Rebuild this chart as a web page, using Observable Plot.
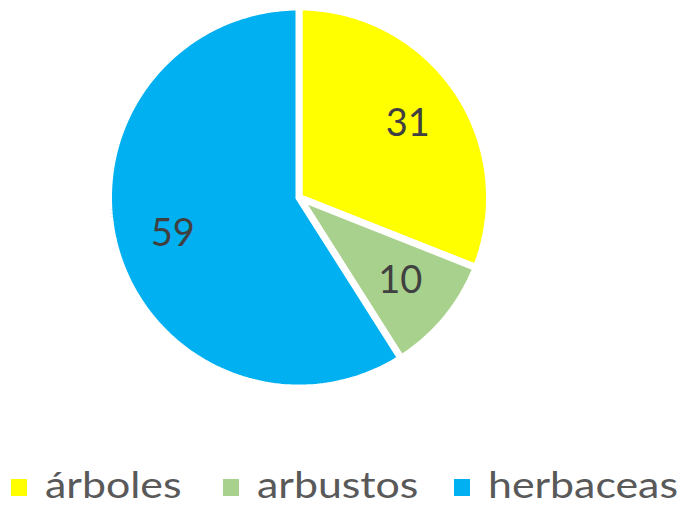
<!DOCTYPE html>
<html>
<head>
<meta charset="utf-8">
<script src="https://cdn.jsdelivr.net/npm/d3@7"></script>
<script src="https://cdn.jsdelivr.net/npm/@observablehq/plot@0.6"></script>
<style>
  html, body { margin: 0; padding: 0; background: #fff; }
  #wrap { position: relative; width: 686px; height: 511px; overflow: hidden; }
  #legend { position: absolute; left: 0; top: 440px; width: 686px; height: 71px; font-family: Lato, sans-serif; font-size: 36px; color: #595959; }
  .item { position: absolute; top: 22px; display: flex; align-items: center; white-space: nowrap; }
  .sw { width: 16px; height: 17px; margin-right: 18px; margin-top: 6px; flex: none; }
  .tx { display: inline-block; transform: scaleX(1.19); transform-origin: 0 50%; }
</style>
</head>
<body>
<div id="wrap">
  <div id="chart"></div>
  <div id="legend"></div>
</div>
<script>
const categories = ["árboles", "arbustos", "herbaceas"];
const values = [31, 10, 59];
const colors = ["#FFFF00", "#A9D18E", "#00B0F0"];

const W = 686, H = 440;
const cx = 298.5, cy = 197, R = 190.5;

const pie = d3.pie().sort(null).value(d => d.value)(categories.map((name, i) => ({name, value: values[i]})));

const pts = [];
const labels = [];
for (const s of pie) {
  const name = s.data.name;
  pts.push({name, x: cx, y: cy});
  const n = Math.max(2, Math.ceil((s.endAngle - s.startAngle) / (Math.PI / 180)));
  for (let k = 0; k <= n; k++) {
    const a = s.startAngle + (s.endAngle - s.startAngle) * k / n;
    pts.push({name, x: cx + R * Math.sin(a), y: cy - R * Math.cos(a)});
  }
  pts.push({name, x: cx, y: cy});
  const m = (s.startAngle + s.endAngle) / 2;
  labels.push({name, value: s.data.value, x: cx + 0.69 * R * Math.sin(m), y: cy - 0.69 * R * Math.cos(m)});
}

const chart = Plot.plot({
  width: W, height: H,
  margin: 0,
  x: {domain: [0, W], range: [0, W], axis: null},
  y: {domain: [0, H], range: [0, H], axis: null},
  color: {domain: categories, range: colors},
  style: {background: "#fff"},
  marks: [
    Plot.line(pts, {x: "x", y: "y", z: "name", fill: "name", stroke: "#fff", strokeWidth: 7, strokeLinejoin: "miter", curve: "linear"}),
    Plot.text(labels, {x: "x", y: "y", text: d => String(d.value), fill: "#404040", fontSize: 38, fontFamily: "Lato, sans-serif"})
  ]
});
document.getElementById("chart").appendChild(chart);

const lefts = [11, 223, 454];
const leg = document.getElementById("legend");
categories.forEach((c, i) => {
  const it = document.createElement("div");
  it.className = "item";
  it.style.left = lefts[i] + "px";
  const sw = document.createElement("span");
  sw.className = "sw";
  sw.style.background = colors[i];
  const tx = document.createElement("span");
  tx.className = "tx";
  tx.textContent = c;
  it.appendChild(sw); it.appendChild(tx);
  leg.appendChild(it);
});
</script>
</body>
</html>
